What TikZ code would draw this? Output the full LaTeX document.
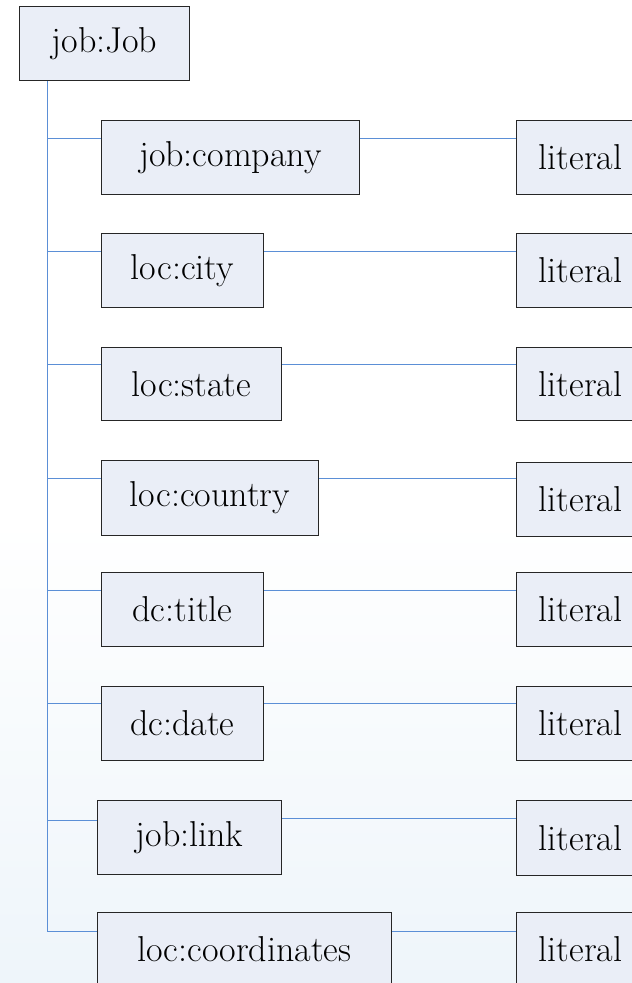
\documentclass[tikz,border=0pt]{standalone}
\usetikzlibrary{calc}
\definecolor{boxfill}{HTML}{EAEEF7}
\definecolor{boxline}{HTML}{262626}
\definecolor{conncol}{HTML}{5B8FD6}
\definecolor{bgbottom}{HTML}{EEF5FA}
\begin{document}
\begin{tikzpicture}[x=1pt,y=-1pt,
  nbox/.style={draw=boxline,fill=boxfill,line width=0.9pt,inner sep=0pt,
    font=\fontsize{36}{42}\selectfont,anchor=north west},
  conn/.style={draw=conncol,line width=1pt}]
\useasboundingbox (0,0) rectangle (632,983);
\clip (0,0) rectangle (632,983);
\fill[white] (0,0) rectangle (632,520);
\shade[top color=white,bottom color=bgbottom] (0,519) rectangle (632,983);
% root
\node[nbox,minimum width=170pt,minimum height=74pt] (job) at (19,6) {job:Job};
% properties
\node[nbox,minimum width=258pt,minimum height=74pt] (p1) at (101,120) {job:company};
\node[nbox,minimum width=162pt,minimum height=74pt] (p2) at (101,233) {loc:city};
\node[nbox,minimum width=180pt,minimum height=73pt] (p3) at (101,347) {loc:state};
\node[nbox,minimum width=217pt,minimum height=75pt] (p4) at (101,460) {loc:country};
\node[nbox,minimum width=162pt,minimum height=74pt] (p5) at (101,572) {dc:title};
\node[nbox,minimum width=162pt,minimum height=74pt] (p6) at (101,686) {dc:date};
\node[nbox,minimum width=184pt,minimum height=74pt] (p7) at (97,800) {job:link};
\node[nbox,minimum width=294pt,minimum height=74pt] (p8) at (97,912) {loc:coordinates};
% literals
\node[nbox,minimum width=128pt,minimum height=74pt] (l1) at (516,120) {literal};
\node[nbox,minimum width=128pt,minimum height=74pt] (l2) at (516,233) {literal};
\node[nbox,minimum width=128pt,minimum height=73pt] (l3) at (516,347) {literal};
\node[nbox,minimum width=128pt,minimum height=74pt] (l4) at (516,462) {literal};
\node[nbox,minimum width=128pt,minimum height=74pt] (l5) at (516,572) {literal};
\node[nbox,minimum width=128pt,minimum height=74pt] (l6) at (516,686) {literal};
\node[nbox,minimum width=128pt,minimum height=75pt] (l7) at (516,800) {literal};
\node[nbox,minimum width=128pt,minimum height=74pt] (l8) at (516,912) {literal};
% trunk coordinates
\coordinate (t1) at (47,138);
\coordinate (t2) at (47,251);
\coordinate (t3) at (47,364);
\coordinate (t4) at (47,478);
\coordinate (t5) at (47,590);
\coordinate (t6) at (47,703);
\coordinate (t7) at (47,820);
\coordinate (t8) at (47,931);
\coordinate (r7) at (47,818);
% trunk
\draw[conn] (t8 |- job.south) -- (t8);
% branches
\foreach \i in {1,...,8}{
  \draw[conn] (t\i) -- (t\i -| p\i.west);
}
\foreach \i in {1,2,3,4,5,6,8}{
  \draw[conn] (t\i -| p\i.east) -- (t\i -| l\i.west);
}
\draw[conn] (r7 -| p7.east) -- (r7 -| l7.west);
\end{tikzpicture}
\end{document}
